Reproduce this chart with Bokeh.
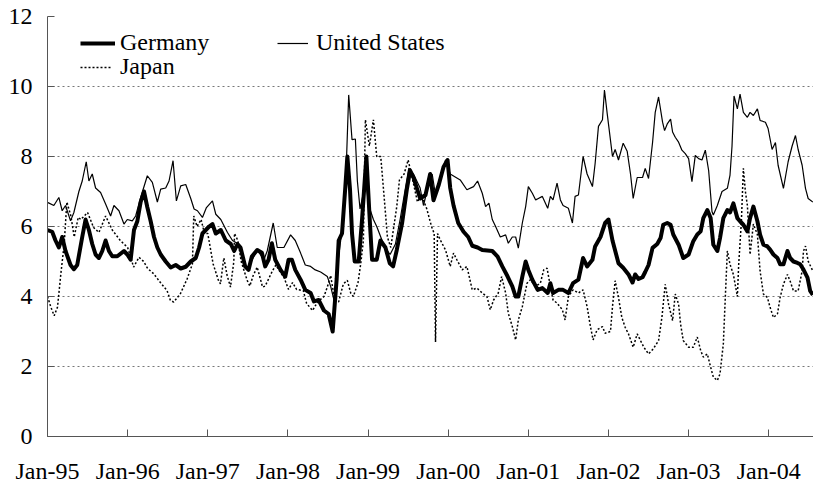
from bokeh.plotting import figure
from bokeh.models import FixedTicker, Legend, LegendItem, Range1d
from bokeh.embed import file_html
from bokeh.resources import INLINE

# ---- data (months since Jan-1995, yields in %) ----
de_month = [0, 0.7, 1.2, 1.7, 2.2, 2.7, 3.45, 3.95, 4.45, 5.2, 5.7, 6.2, 6.7, 7.2, 7.7, 8.2, 8.7, 9.2, 9.7,
            10.45, 11.45, 11.95, 12.45, 12.95, 13.45, 13.95, 14.45, 14.95, 15.45, 15.95, 16.45, 16.95, 17.7,
            18.45, 19.2, 19.95, 20.7, 21.45, 22.2, 22.7, 23.2, 23.7, 24.2, 24.7, 25.2, 25.95, 26.7, 27.45,
            27.95, 28.45, 28.9, 29.6, 30.1, 30.6, 31.4, 32.1, 32.6, 33.1, 33.6, 34.1, 34.9, 35.6, 36.1, 36.6,
            37.1, 37.9, 38.6, 39.4, 39.9, 40.6, 41.4, 42.1, 42.7, 43.3, 43.6, 44.1, 44.6, 44.9, 45.3, 45.6,
            46.0, 46.6, 47.1, 47.75, 48.25, 48.6, 49.3, 49.85, 50.6, 51.25, 51.75, 52.3, 53.1, 53.8, 54.3,
            54.8, 55.3, 55.8, 56.6, 57.3, 57.8, 58.6, 59.3, 59.9, 60.3, 60.8, 61.5, 62.3, 63.0, 63.6, 64.4,
            65.1, 66.6, 67.4, 68.1, 68.9, 69.6, 70.1, 70.5, 71.1, 71.6, 72.0, 72.6, 73.4, 74.1, 74.9, 75.3,
            75.7, 76.5, 77.2, 78.0, 78.7, 79.5, 80.2, 80.8, 81.6, 82.0, 82.8, 83.5, 84.0, 84.6, 85.5, 86.2,
            87.0, 87.6, 88.0, 88.5, 89.1, 89.5, 90.0, 90.6, 91.3, 91.8, 92.2, 92.8, 93.3, 93.7, 94.5, 95.2,
            96.0, 96.7, 97.3, 97.8, 98.2, 98.8, 99.3, 99.7, 100.3, 100.7, 101.2, 101.8, 102.2, 102.7, 103.3,
            103.7, 104.2, 104.8, 105.2, 105.7, 106.3, 106.7, 107.2, 107.8, 108.2, 108.7, 109.3, 109.7, 110.2,
            110.8, 111.2, 111.7, 112.3, 112.7, 113.2, 113.8, 114.2, 114.6]
de_value = [5.9, 5.85, 5.6, 5.4, 5.7, 5.3, 4.9, 4.78, 4.9, 5.7, 6.2, 5.9, 5.5, 5.2, 5.1, 5.3, 5.6, 5.3, 5.15,
            5.15, 5.3, 5.2, 5.05, 5.9, 6.15, 6.7, 7.0, 6.55, 6.15, 5.7, 5.4, 5.2, 5.0,
            4.83, 4.9, 4.8, 4.85, 5.0, 5.1, 5.4, 5.8, 5.9, 6.0, 6.07, 5.8, 5.9, 5.6, 5.5,
            5.3, 5.5, 5.4, 4.86, 4.76, 5.14, 5.33, 5.25, 4.86, 5.05, 5.52, 5.05, 4.76, 4.57, 5.05, 5.05,
            4.76, 4.48, 4.19, 4.1, 3.86, 3.9, 3.6, 3.5, 3.0, 4.5, 5.6, 5.8, 7.14, 8.0, 7.05, 5.8,
            5.0, 5.0, 6.2, 8.0, 6.2, 5.05, 5.05, 5.6, 5.4, 4.95, 4.86, 5.33, 6.1, 7.05, 7.6,
            7.4, 7.1, 6.8, 6.9, 7.5, 6.75, 7.2, 7.7, 7.9, 7.1, 6.6, 6.1, 5.85, 5.7, 5.45, 5.4,
            5.33, 5.3, 5.14, 4.86, 4.57, 4.29, 4.0, 4.0, 4.57, 5.0, 4.76, 4.48, 4.19, 4.24, 4.1, 4.38,
            4.1, 4.19, 4.19, 4.1, 4.38, 4.48, 5.1, 4.86, 5.05, 5.43, 5.7, 6.1, 6.2, 5.6, 4.95, 4.82,
            4.63, 4.4, 4.63, 4.5, 4.55, 4.7, 4.9, 5.39, 5.5, 5.67, 6.05, 6.1, 6.05, 5.77, 5.48, 5.1,
            5.2, 5.58, 5.77, 5.86, 6.24, 6.47, 6.24, 5.48, 5.3, 5.67, 6.24, 6.47, 6.4, 6.66, 6.24,
            6.15, 6.05, 5.86, 6.24, 6.57, 6.15, 5.77, 5.48, 5.43, 5.34, 5.2, 5.1, 4.92, 4.92,
            5.3, 5.1, 5.0, 4.96, 4.92, 4.77, 4.54, 4.16, 4.05]

us_month = [0, 0.95, 1.7, 2.2, 2.7, 3.45, 3.95, 4.7, 5.2, 5.8, 6.2, 6.7, 7.2, 7.95, 8.7, 9.45, 9.95, 10.7,
            11.45, 11.95, 12.7, 13.2, 13.95, 14.95, 15.7, 16.45, 16.95, 17.7, 18.2, 18.8, 19.3, 19.95, 20.7,
            21.45, 21.95, 22.45, 23.2, 23.8, 24.7, 25.2, 25.95, 26.95, 27.7, 28.4, 29.9, 31.4, 32.4, 32.9,
            33.8, 34.4, 35.4, 36.4, 37.1, 37.9, 38.6, 39.4, 40.1, 40.9, 41.9, 42.4, 42.9, 43.5, 43.9, 44.6,
            45.1, 45.6, 46.1, 46.4, 46.8, 47.4, 47.6, 48.1, 48.8, 49.3, 50.1, 50.8, 51.3, 52.1, 52.8, 53.3,
            54.1, 54.8, 55.8, 56.3, 56.8, 57.6, 58.1, 58.8, 59.6, 60.3, 61.8, 62.8, 63.8, 64.4, 65.1, 65.6,
            66.1, 66.6, 67.1, 67.8, 68.6, 69.0, 69.6, 70.1, 70.5, 71.1, 71.6, 72.0, 72.6, 73.1, 73.5, 74.1,
            74.9, 75.3, 75.7, 76.3, 76.8, 77.2, 78.0, 78.6, 79.0, 79.5, 80.2, 80.8, 81.6, 82.0, 82.5, 83.1,
            83.4, 83.8, 84.6, 85.0, 85.5, 86.2, 86.8, 87.3, 87.7, 88.3, 89.1, 89.5, 90.0, 90.6, 91.0, 91.5,
            92.1, 92.4, 92.8, 93.3, 93.6, 94.0, 94.5, 95.0, 95.5, 96.0, 96.5, 97.0, 97.5, 98.0, 98.5, 99.0,
            99.5, 99.7, 100.3, 101.0, 101.8, 102.2, 102.5, 102.8, 103.3, 103.7, 104.2, 104.8, 105.2, 105.7,
            106.3, 106.7, 107.5, 107.9, 108.5, 109.0, 109.4, 110.2, 110.9, 111.5, 112.0, 112.4, 113.0, 113.5,
            113.9, 114.6]
us_value = [6.69, 6.6, 6.83, 6.45, 6.6, 6.16, 6.4, 7.0, 7.3, 7.85, 7.3, 7.5, 7.1, 6.97, 6.64, 6.3, 6.6, 6.45,
            6.07, 6.2, 6.16, 6.3, 6.83, 7.45, 7.26, 6.7, 7.07, 7.1, 7.3, 7.88, 6.73, 7.16, 7.2,
            6.8, 6.5, 6.45, 6.26, 6.54, 6.73, 6.35, 6.2, 5.83, 5.6, 5.52, 4.76, 5.33, 5.05, 5.3,
            6.1, 5.4, 5.4, 5.76, 5.6, 5.24, 4.9, 4.86, 4.76, 4.7, 4.57, 4.29, 3.9, 5.0, 5.6, 6.95,
            9.76, 8.48, 8.5, 7.3, 6.5, 7.05, 7.4, 6.6, 6.2, 6.0, 5.6, 5.33, 5.2, 5.5, 6.2, 6.76,
            7.67, 7.5, 7.1, 6.6, 7.0, 7.5, 6.9, 7.3, 7.9, 7.5, 7.33, 7.05, 7.14, 7.3, 6.95, 6.57,
            6.67, 6.2, 6.0, 5.7, 5.76, 5.52, 5.7, 5.7, 5.38, 6.1, 6.57, 7.14, 6.95, 6.76, 6.8, 6.86,
            6.52, 6.86, 6.76, 7.24, 6.76, 6.6, 6.52, 6.1, 6.86, 6.9, 8.0, 7.5, 7.14, 7.8, 8.86, 9.05,
            9.9, 9.24, 8.0, 8.2, 7.9, 8.38, 8.15, 7.5, 6.8, 7.4, 7.4, 7.66, 7.37, 8.4, 9.26, 9.7,
            8.98, 8.74, 8.93, 9.07, 8.7, 8.55, 8.41, 8.18, 8.08, 7.94, 7.28, 8.03, 7.94, 7.9, 8.18, 7.6,
            6.43, 6.33, 6.6, 7.0, 7.09, 7.47, 8.3, 9.73, 9.36, 9.78, 9.26, 9.12, 9.26, 9.17,
            9.36, 9.03, 8.98, 8.8, 8.2, 8.4, 7.75, 7.09, 7.85, 8.3, 8.6, 8.2, 7.75, 7.09,
            6.8, 6.7]

jp_month = [0, 0.5, 1.0, 1.5, 2.0, 2.5, 2.9, 3.5, 4.0, 4.6, 5.0, 6.0, 6.9, 7.7, 8.7, 9.7, 10.9, 12.0, 12.9,
            13.7, 14.4, 15.0, 15.9, 16.9, 17.9, 18.4, 18.9, 19.9, 20.9, 21.7, 21.9, 22.4, 23.0, 23.5, 24.0,
            24.8, 25.6, 25.9, 26.4, 26.9, 27.4, 27.9, 28.0, 28.5, 29.0, 29.9, 30.3, 30.8, 31.4, 32.2, 32.6,
            33.1, 33.7, 34.2, 34.7, 35.4, 36.1, 36.7, 37.3, 38.3, 38.8, 39.7, 40.3, 40.8, 41.4, 41.9, 42.4,
            43.0, 43.6, 44.3, 44.9, 45.4, 45.8, 46.5, 46.9, 47.3, 47.6, 48.2, 48.8, 49.3, 49.9, 50.4, 50.9,
            51.4, 52.3, 52.7, 53.4, 54.0, 54.6, 55.4, 56.0, 56.8, 57.5, 57.9, 58.1, 58.4, 58.8, 59.6, 60.3,
            60.8, 61.3, 62.1, 62.8, 63.6, 64.3, 65.1, 65.8, 66.3, 66.8, 67.5, 68.0, 68.6, 69.0, 69.6, 70.1,
            70.5, 71.1, 71.8, 72.3, 73.1, 73.8, 74.3, 74.8, 75.3, 75.7, 76.3, 77.1, 77.5, 78.0, 78.7, 79.5,
            80.2, 80.8, 81.3, 81.7, 82.3, 83.1, 83.5, 84.3, 84.6, 85.0, 85.5, 86.0, 86.5, 87.0, 87.7, 88.3,
            88.8, 89.3, 90.0, 90.7, 91.5, 92.0, 92.5, 93.0, 93.6, 94.0, 94.5, 94.8, 95.2, 96.0, 96.7, 97.3,
            97.8, 98.2, 98.8, 99.3, 99.7, 100.3, 100.7, 101.2, 101.5, 101.8, 102.2, 102.7, 103.3, 103.5,
            103.9, 104.2, 104.5, 104.8, 105.2, 105.7, 106.3, 106.7, 107.2, 107.8, 108.2, 108.7, 109.3,
            109.7, 110.2, 110.8, 111.2, 111.7, 112.4, 113.0, 113.2, 113.5, 113.9, 114.6]
jp_value = [4.0, 3.7, 3.45, 3.7, 4.65, 5.5, 6.7, 6.3, 5.7, 6.26, 6.2, 6.4, 5.97, 5.83, 6.3, 5.9, 5.6, 5.4, 4.84,
            5.12, 5.0, 4.8, 4.65, 4.4, 4.17, 3.89, 3.84, 4.08, 4.5, 4.93, 6.3, 6.0, 6.2, 5.8, 5.8,
            4.93, 4.46, 4.36, 5.1, 4.6, 4.27, 5.0, 5.8, 5.6, 5.0, 4.46, 4.3, 4.6, 4.84, 4.27, 4.3,
            4.5, 4.74, 4.9, 4.74, 4.55, 4.2, 4.4, 4.2, 4.17, 3.8, 3.6, 3.8, 3.9, 4.0, 4.27, 4.6,
            3.9, 3.85, 4.36, 4.46, 4.1, 4.0, 4.4, 4.93, 5.6, 9.05, 8.3, 9.05, 8.0, 8.0, 6.86, 5.7,
            5.4, 6.57, 7.33, 7.5, 7.9, 7.4, 6.7, 6.9, 6.5, 6.0, 5.8, 2.7, 5.8, 5.62, 5.33, 4.86,
            5.24, 5.05, 4.76, 4.86, 4.19, 4.24, 4.1, 4.0, 3.62, 3.9, 4.1, 4.57, 4.1, 3.52, 3.14, 2.76,
            3.33, 3.71, 4.38, 4.48, 4.29, 4.38, 4.76, 4.81, 4.29, 3.9, 3.81, 3.62, 3.33, 4.0, 4.19, 4.1,
            4.19, 3.71, 3.14, 2.76, 3.05, 3.14, 2.95, 3.0, 3.71, 4.45, 3.97, 3.4, 3.12, 2.93, 2.55, 2.93,
            2.74, 2.55, 2.36, 2.5, 2.74, 3.4, 4.35, 3.78, 3.31, 4.07, 3.78, 3.21, 2.74, 2.55, 2.55, 2.84,
            2.46, 2.27, 2.36, 1.98, 1.7, 1.6, 1.79, 2.65, 4.0, 5.3, 4.92, 4.63, 4.0, 4.92,
            6.14, 7.66, 7.0, 6.6, 5.2, 6.07, 5.77, 4.73, 4.07, 3.97, 3.69, 3.4, 3.5,
            3.97, 4.35, 4.63, 4.44, 4.16, 4.16, 4.73, 5.3, 5.44, 5.01, 4.73]

tick_months = [0, 12, 24, 36, 48, 60, 72, 84, 96, 108]
tick_labels = ["Jan-95", "Jan-96", "Jan-97", "Jan-98", "Jan-99",
               "Jan-00", "Jan-01", "Jan-02", "Jan-03", "Jan-04"]
y_ticks = [0, 2, 4, 6, 8, 10, 12]

FONT = "'Liberation Serif', 'Times New Roman', Times, serif"
FS = "24px"

p = figure(width=813, height=487, output_backend="svg", toolbar_location=None,
           x_range=Range1d(0, 114.7), y_range=Range1d(0, 12),
           min_border_left=47, min_border_right=0, min_border_top=16, min_border_bottom=51)
p.outline_line_color = None
p.background_fill_color = "white"
p.border_fill_color = "white"

r_jp = p.line(jp_month, jp_value, line_color="black", line_width=1.5, line_dash="2 2")
r_us = p.line(us_month, us_value, line_color="black", line_width=1.2)
r_de = p.line(de_month, de_value, line_color="black", line_width=4, line_join="round")

# x axis
p.xaxis.ticker = FixedTicker(ticks=tick_months)
p.xaxis.major_label_overrides = {m: lab for m, lab in zip(tick_months, tick_labels)}
p.xaxis.minor_tick_line_color = None
p.xaxis.major_tick_in = 7
p.xaxis.major_tick_out = 0
p.xaxis.major_tick_line_color = "#555555"
p.xaxis.axis_line_color = "#555555"
p.xaxis.major_label_standoff = 21
p.xaxis.major_label_text_font = FONT
p.xaxis.major_label_text_font_size = FS
p.xaxis.major_label_text_color = "black"

# y axis
p.yaxis.ticker = FixedTicker(ticks=y_ticks)
p.yaxis.minor_tick_line_color = None
p.yaxis.major_tick_in = 7
p.yaxis.major_tick_out = 0
p.yaxis.major_tick_line_color = "#555555"
p.yaxis.axis_line_color = "#555555"
p.yaxis.major_label_standoff = 15
p.yaxis.major_label_text_font = FONT
p.yaxis.major_label_text_font_size = FS
p.yaxis.major_label_text_color = "black"

p.xgrid.grid_line_color = None
p.ygrid.grid_line_color = "#777777"
p.ygrid.grid_line_dash = "2 3"
p.ygrid.grid_line_width = 1


def make_legend(label, renderer, loc, gw, standoff):
    lg = Legend(items=[LegendItem(label=label, renderers=[renderer])], location=loc,
                padding=0, margin=0, spacing=0, border_line_color=None,
                background_fill_alpha=0, glyph_width=gw, glyph_height=20, label_height=20,
                label_standoff=standoff, label_text_font=FONT, label_text_font_size=FS,
                label_text_color="black")
    p.add_layout(lg)


make_legend("Germany", r_de, (33, 380), 35, 5)
make_legend("United States", r_us, (230, 380), 31, 8)
make_legend("Japan", r_jp, (33, 356), 32, 8)

open("out.html", "w").write(file_html(p, INLINE))
